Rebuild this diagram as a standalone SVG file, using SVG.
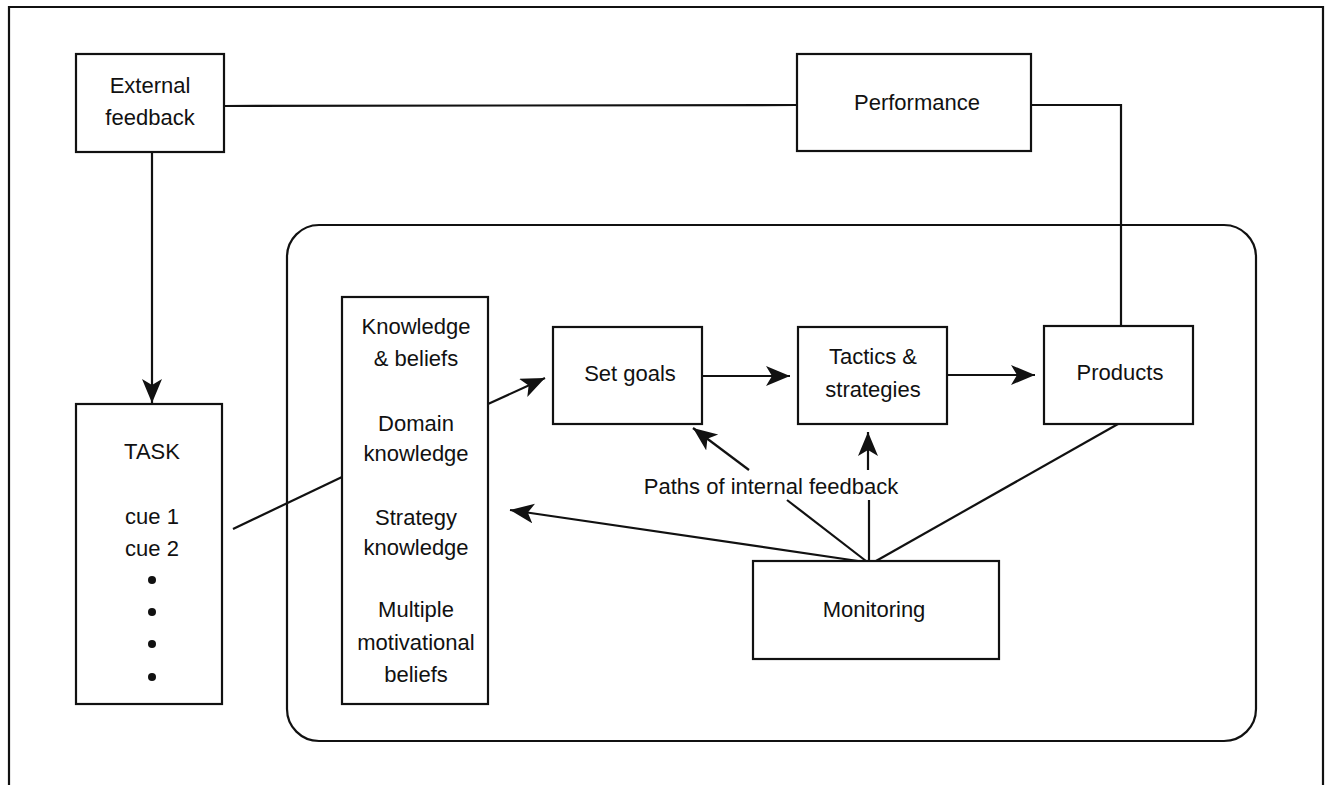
<svg xmlns="http://www.w3.org/2000/svg" width="1328" height="785" viewBox="0 0 1328 785">
<defs>
<style>
.box{fill:#fff;stroke:#111;stroke-width:2.2}
.ln{fill:none;stroke:#111;stroke-width:2.2}
.t{font-family:"Liberation Sans",Arial,sans-serif;font-size:22px;fill:#111;text-anchor:middle}
</style>
<marker id="ah" markerUnits="userSpaceOnUse" markerWidth="26" markerHeight="22" refX="24" refY="10" orient="auto">
<path d="M0,0 L24,10 L0,20 L6,10 z" fill="#111"/>
</marker>
</defs>
<rect width="1328" height="785" fill="#fff"/>
<path class="ln" d="M9,785 V7 H1323 V785"/>
<rect id="inner" class="box" x="287" y="225" width="969" height="516" rx="32" ry="32"/>

<g id="connectors">
<line class="ln" x1="224" y1="106" x2="797" y2="105"/>
<path class="ln" d="M1031,105 H1121 V326"/>
<line class="ln" x1="152" y1="152" x2="152" y2="403" marker-end="url(#ah)"/>
<line class="ln" x1="233" y1="529" x2="342" y2="477"/>
<line class="ln" x1="488" y1="404" x2="545" y2="378" marker-end="url(#ah)"/>
<line class="ln" x1="702" y1="376" x2="790" y2="376" marker-end="url(#ah)"/>
<line class="ln" x1="947" y1="375" x2="1035" y2="375" marker-end="url(#ah)"/>
<line class="ln" x1="876" y1="561" x2="1118" y2="424"/>
<line class="ln" x1="869" y1="561" x2="869" y2="500"/>
<line class="ln" x1="868" y1="470" x2="868" y2="432" marker-end="url(#ah)"/>
<line class="ln" x1="866" y1="561" x2="787" y2="500"/>
<line class="ln" x1="749" y1="470" x2="693" y2="428" marker-end="url(#ah)"/>
<line class="ln" x1="858" y1="561" x2="510" y2="510" marker-end="url(#ah)"/>
</g>

<g id="external-feedback">
<rect class="box" x="76" y="54" width="148" height="98"/>
<text class="t" x="150" y="93">External</text>
<text class="t" x="150" y="125">feedback</text>
</g>

<g id="performance">
<rect class="box" x="797" y="54" width="234" height="97"/>
<text class="t" x="917" y="110">Performance</text>
</g>

<g id="task">
<rect class="box" x="76" y="404" width="146" height="300"/>
<text class="t" x="152" y="459">TASK</text>
<text class="t" x="152" y="524">cue 1</text>
<text class="t" x="152" y="556">cue 2</text>
<circle cx="152" cy="580" r="4" fill="#111"/>
<circle cx="152" cy="612" r="4" fill="#111"/>
<circle cx="152" cy="644" r="4" fill="#111"/>
<circle cx="152" cy="677" r="4" fill="#111"/>
</g>

<g id="knowledge">
<rect class="box" x="342" y="297" width="146" height="407"/>
<text class="t" x="416" y="334">Knowledge</text>
<text class="t" x="416" y="366">&amp; beliefs</text>
<text class="t" x="416" y="431">Domain</text>
<text class="t" x="416" y="461">knowledge</text>
<text class="t" x="416" y="525">Strategy</text>
<text class="t" x="416" y="555">knowledge</text>
<text class="t" x="416" y="617">Multiple</text>
<text class="t" x="416" y="650">motivational</text>
<text class="t" x="416" y="682">beliefs</text>
</g>

<g id="set-goals">
<rect class="box" x="553" y="327" width="149" height="97"/>
<text class="t" x="630" y="381">Set goals</text>
</g>

<g id="tactics">
<rect class="box" x="798" y="327" width="149" height="97"/>
<text class="t" x="873" y="364">Tactics &amp;</text>
<text class="t" x="873" y="397">strategies</text>
</g>

<g id="products">
<rect class="box" x="1044" y="326" width="149" height="98"/>
<text class="t" x="1120" y="380">Products</text>
</g>

<g id="monitoring">
<rect class="box" x="753" y="561" width="246" height="98"/>
<text class="t" x="874" y="617">Monitoring</text>
</g>

<g id="label-internal">
<text class="t" x="771" y="494">Paths of internal feedback</text>
</g>
</svg>
